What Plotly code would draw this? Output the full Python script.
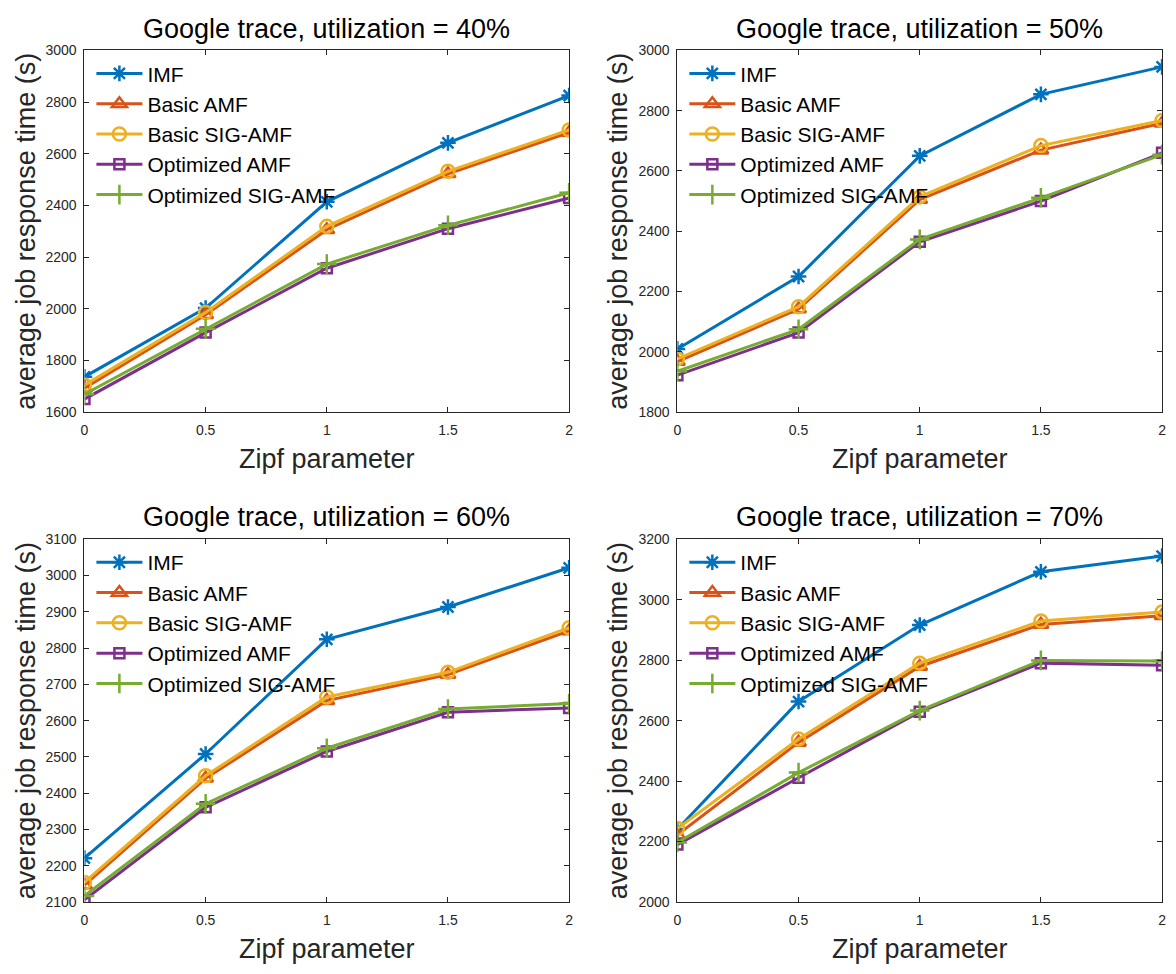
import plotly.graph_objects as go

zipf = [0, 0.5, 1, 1.5, 2]
series_names = ["IMF", "Basic AMF", "Basic SIG-AMF", "Optimized AMF", "Optimized SIG-AMF"]
utilizations = ["40%", "50%", "60%", "70%"]

# utilization = 40%
u40_imf = [1737, 2003, 2414, 2642, 2825]
u40_basic_amf = [1693, 1977, 2306, 2522, 2682]
u40_basic_sig = [1705, 1986, 2319, 2532, 2692]
u40_opt_amf = [1651, 1908, 2157, 2310, 2429]
u40_opt_sig = [1670, 1923, 2173, 2323, 2449]

# utilization = 50%
u50_imf = [2010, 2250, 2650, 2854, 2945]
u50_basic_amf = [1968, 2142, 2505, 2669, 2758]
u50_basic_sig = [1977, 2150, 2514, 2684, 2767]
u50_opt_amf = [1923, 2064, 2365, 2500, 2660]
u50_opt_sig = [1936, 2075, 2373, 2511, 2654]

# utilization = 60%
u60_imf = [2221, 2508, 2824, 2913, 3021]
u60_basic_amf = [2147, 2441, 2655, 2727, 2847]
u60_basic_sig = [2154, 2448, 2665, 2733, 2856]
u60_opt_amf = [2106, 2361, 2515, 2623, 2635]
u60_opt_sig = [2117, 2371, 2524, 2632, 2647]

# utilization = 70%
u70_imf = [2241, 2663, 2916, 3092, 3144]
u70_basic_amf = [2222, 2528, 2779, 2918, 2947]
u70_basic_sig = [2243, 2539, 2790, 2929, 2959]
u70_opt_amf = [2190, 2411, 2629, 2790, 2783]
u70_opt_sig = [2197, 2428, 2633, 2799, 2797]

panels = [
    [u40_imf, u40_basic_amf, u40_basic_sig, u40_opt_amf, u40_opt_sig],
    [u50_imf, u50_basic_amf, u50_basic_sig, u50_opt_amf, u50_opt_sig],
    [u60_imf, u60_basic_amf, u60_basic_sig, u60_opt_amf, u60_opt_sig],
    [u70_imf, u70_basic_amf, u70_basic_sig, u70_opt_amf, u70_opt_sig],
]
y_ranges = [(1600, 3000, 200), (1800, 3000, 200), (2100, 3100, 100), (2000, 3200, 200)]

colors = ["#0072BD", "#D95319", "#EDB120", "#7E2F8E", "#77AC30"]
symbols = ["asterisk-open", "triangle-up-open", "circle-open", "square-open", "cross-thin-open"]
msizes = [13, 13, 13, 10, 14]

W, H = 1176, 974
FONT = "Liberation Sans, Arial, sans-serif"
# pixel boxes: (left, right, top, bottom)
boxes = [(81, 569, 43, 411), (678, 1166, 43, 411), (81, 569, 540, 909), (678, 1166, 540, 909)]

fig = go.Figure()
layout = dict(
    width=W, height=H, margin=dict(l=0, r=0, t=0, b=0),
    paper_bgcolor="white", plot_bgcolor="white",
    font=dict(family=FONT, color="#262626"),
    annotations=[],
)

for p in range(4):
    l, r, t, b = boxes[p]
    ax = "" if p == 0 else str(p + 1)
    leg = "legend" if p == 0 else "legend" + str(p + 1)
    for s in range(5):
        fig.add_trace(go.Scatter(
            x=zipf, y=panels[p][s], name=series_names[s], mode="lines+markers",
            xaxis="x" + ax, yaxis="y" + ax, legend=leg,
            line=dict(color=colors[s], width=3),
            marker=dict(symbol=symbols[s], size=msizes[s], color=colors[s],
                        line=dict(color=colors[s], width=2.5)),
        ))
    y0, y1, dt = y_ranges[p]
    common = dict(showline=True, linecolor="#262626", linewidth=1, mirror="ticks",
                  ticks="inside", ticklen=5, tickcolor="#262626", showgrid=False,
                  zeroline=False, tickfont=dict(size=14, color="#262626", family=FONT))
    layout["xaxis" + ax] = dict(
        domain=[l / W, r / W], anchor="y" + ax, range=[0, 2],
        tickvals=zipf, ticktext=["0", "0.5", "1", "1.5", "2"],
        ticklabelstandoff=5,
        title=dict(text="Zipf parameter", font=dict(size=27, color="#262626", family=FONT), standoff=12),
        **common)
    layout["yaxis" + ax] = dict(
        domain=[1 - b / H, 1 - t / H], anchor="x" + ax, range=[y0, y1], dtick=dt, tick0=y0,
        title=dict(text="average job response time (s)", font=dict(size=27, color="#262626", family=FONT), standoff=2),
        ticklabelstandoff=4,
        **common)
    layout[leg] = dict(
        x=(l + 7) / W, xanchor="left", y=1 - (t + 3) / H, yanchor="top",
        bgcolor="rgba(0,0,0,0)", borderwidth=0, itemwidth=46,
        font=dict(size=21, color="black", family=FONT),
    )
    layout["annotations"].append(dict(
        text="Google trace, utilization = " + utilizations[p],
        x=(l + r) / 2 / W, y=1 - (t - 22) / H, xref="paper", yref="paper",
        xanchor="center", yanchor="middle", showarrow=False,
        font=dict(size=27, color="black", family=FONT),
    ))

fig.update_layout(**layout)
fig.write_html("out.html")
